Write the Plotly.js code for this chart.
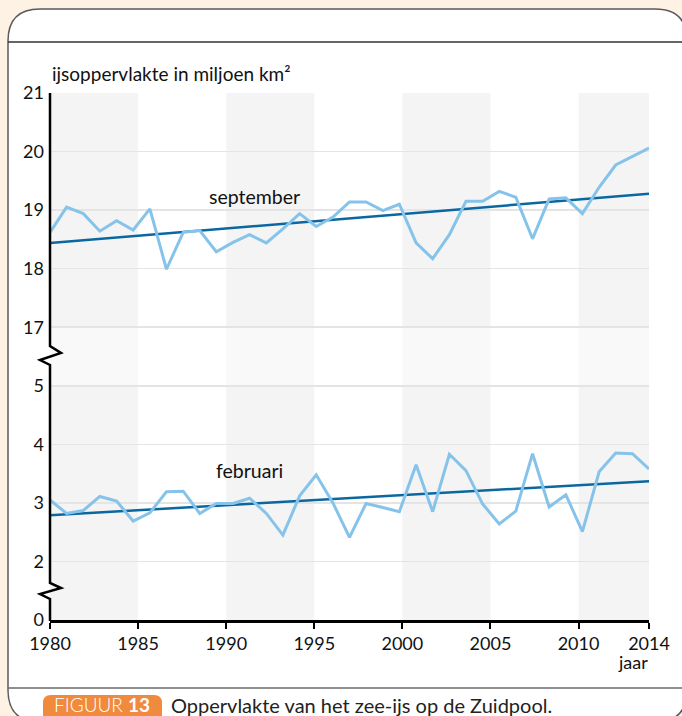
<!DOCTYPE html>
<html><head><meta charset="utf-8">
<script src="https://cdn.plot.ly/plotly-3.0.1.min.js"></script>
<style>html,body{margin:0;padding:0;background:#fdf2e4;}#chart{width:682px;height:716px;}</style>
</head><body><div id="chart"></div>
<script>
// ---- data ----
const years = [1980.00,1980.94,1981.89,1982.83,1983.78,1984.72,1985.67,1986.61,1987.56,1988.50,
               1989.44,1990.39,1991.33,1992.28,1993.22,1994.17,1995.11,1996.06,1997.00,1997.94,
               1998.89,1999.83,2000.78,2001.72,2002.67,2003.61,2004.56,2005.50,2006.44,2007.39,
               2008.33,2009.28,2010.22,2011.17,2012.11,2013.06,2014.00];
const september = [18.62,19.05,18.94,18.64,18.82,18.66,19.02,17.99,18.62,18.65,
                   18.29,18.45,18.58,18.44,18.68,18.94,18.72,18.88,19.14,19.14,
                   18.99,19.10,18.44,18.17,18.58,19.15,19.15,19.32,19.22,18.51,
                   19.19,19.21,18.94,19.39,19.77,19.92,20.06];
const februari = [3.05,2.82,2.87,3.11,3.03,2.69,2.83,3.19,3.20,2.82,
                  2.99,2.99,3.08,2.82,2.45,3.12,3.48,3.00,2.41,2.99,
                  2.92,2.85,3.65,2.85,3.83,3.55,2.98,2.64,2.86,3.84,
                  2.93,3.14,2.51,3.53,3.85,3.84,3.58];
const trendYears = [1980, 2014];
const septemberTrend = [18.44, 19.28];
const februariTrend = [2.79, 3.37];
const yTickValues = [0, 2, 3, 4, 5, 17, 18, 19, 20, 21];
const xTickValues = [1980, 1985, 1990, 1995, 2000, 2005, 2010, 2014];

// broken-axis mapping (0 | 2..5 | 17..21)
function toAxis(v){ if(v>=17) return v-12; if(v>=2) return v-1; return v/2; }

// ---- geometry helpers (pixel -> shape/annotation coordinates) ----
const L=50, R=649, T=93, B=620;
function pt(px,py){ return (px-L)+','+(B-py); }
function pixShape(path, extra){
  return Object.assign({type:'path', xref:'paper', yref:'paper', xsizemode:'pixel', ysizemode:'pixel',
    xanchor:0, yanchor:0, path:path}, extra);
}
function xp(px){ return (px-L)/(R-L); }
function yp(py){ return (B-py)/(B-T); }

const FONT = 'Lato, "Noto Sans", sans-serif';

const traces = [
  {x:trendYears, y:septemberTrend.map(toAxis), mode:'lines', line:{color:'#0b67a0', width:2.5}, hoverinfo:'skip'},
  {x:trendYears, y:februariTrend.map(toAxis), mode:'lines', line:{color:'#0b67a0', width:2.5}, hoverinfo:'skip'},
  {x:years, y:september.map(toAxis), mode:'lines', line:{color:'#86c3ea', width:3}, hoverinfo:'skip'},
  {x:years, y:februari.map(toAxis), mode:'lines', line:{color:'#86c3ea', width:3}, hoverinfo:'skip'}
];

const shapes = [];
// white panel with rounded corners
shapes.push(pixShape('M'+pt(8,690)+' L'+pt(8,41)+' Q'+pt(8,9)+' '+pt(40,9)+' L'+pt(655,9)+
  ' Q'+pt(687,9)+' '+pt(687,41)+' L'+pt(687,690)+' Q'+pt(687,722)+' '+pt(655,722)+
  ' L'+pt(40,722)+' Q'+pt(8,722)+' '+pt(8,690)+' Z',
  {fillcolor:'#ffffff', line:{color:'#5a5a5a', width:1.5}, layer:'below'}));
// header and footer dividers
shapes.push(pixShape('M'+pt(8,42)+' L'+pt(687,42), {line:{color:'#333333', width:1.5}, layer:'below'}));
shapes.push(pixShape('M'+pt(8,688)+' L'+pt(687,688), {line:{color:'#6a6a6a', width:1.5}, layer:'below'}));
// badge
shapes.push(pixShape('M'+pt(51,695)+' L'+pt(154,695)+' Q'+pt(162,695)+' '+pt(162,703)+' L'+pt(162,722)+
  ' L'+pt(43,722)+' L'+pt(43,703)+' Q'+pt(43,695)+' '+pt(51,695)+' Z',
  {fillcolor:'#f08a3c', line:{width:0}, layer:'below'}));
// alternating 5-year bands
const bandFrom = [1980, 1990, 2000, 2010], bandTo = [1985, 1995, 2005, 2014];
for(let i=0;i<bandFrom.length;i++){
  shapes.push({type:'rect', xref:'x', yref:'y', x0:bandFrom[i], x1:bandTo[i], y0:0, y1:4,
    fillcolor:'#f4f4f4', line:{width:0}, layer:'below'});
  shapes.push({type:'rect', xref:'x', yref:'y', x0:bandFrom[i], x1:bandTo[i], y0:5, y1:9,
    fillcolor:'#f4f4f4', line:{width:0}, layer:'below'});
  shapes.push({type:'rect', xref:'x', yref:'y', x0:bandFrom[i], x1:bandTo[i], y0:4, y1:5,
    fillcolor:'#f9f9f9', line:{width:0}, layer:'below'});
}
// y-axis line with break marks
shapes.push(pixShape('M'+pt(50,T)+' L'+pt(50,346)+' L'+pt(61,353)+' L'+pt(40,360)+' L'+pt(50,365)+
  ' L'+pt(50,583)+' L'+pt(61,588)+' L'+pt(40,594)+' L'+pt(50,599)+' L'+pt(50,B+1),
  {line:{color:'#000000', width:2.5}, layer:'above'}));

const annotations = [
  {xref:'paper', yref:'paper', x:0, y:yp(74), xanchor:'left', yanchor:'middle', showarrow:false,
   text:'ijsoppervlakte in miljoen km²', font:{family:FONT, size:19, color:'#111'}},
  {xref:'x', yref:'y', x:1991.6, y:7.24, xanchor:'center', yanchor:'middle', showarrow:false, text:'september',
   font:{family:FONT, size:19.5, color:'#111'}},
  {xref:'x', yref:'y', x:1991.3, y:2.56, xanchor:'center', yanchor:'middle', showarrow:false, text:'februari',
   font:{family:FONT, size:19.5, color:'#111'}},
  {xref:'paper', yref:'paper', x:xp(633), y:yp(662), xanchor:'center', yanchor:'middle', showarrow:false, text:'jaar',
   font:{family:FONT, size:18, color:'#111'}},
  {xref:'paper', yref:'paper', x:xp(102), y:yp(704.5), xanchor:'center', yanchor:'middle', showarrow:false,
   borderpad:0, text:'FIGUUR <b>13</b>', font:{family:FONT, size:19, color:'#ffffff', weight:300}},
  {xref:'paper', yref:'paper', x:xp(170), y:yp(704.5), xanchor:'left', yanchor:'middle', showarrow:false,
   borderpad:0, text:'Oppervlakte van het zee-ijs op de Zuidpool.', font:{family:FONT, size:20, color:'#222'}}
];

const layout = {
  width:682, height:716,
  margin:{l:L, r:682-R, t:T, b:716-B, pad:0},
  paper_bgcolor:'#fdf2e4', plot_bgcolor:'#ffffff',
  showlegend:false,
  font:{family:FONT, size:18, color:'#111'},
  xaxis:{range:[1980,2014], tickvals:xTickValues, ticktext:xTickValues.map(String),
    showgrid:false, zeroline:false, showline:true, linecolor:'#000', linewidth:2.5,
    ticks:'outside', ticklen:6, tickwidth:2, tickcolor:'#000', fixedrange:true,
    tickfont:{family:FONT, size:18, color:'#111'}},
  yaxis:{range:[0,9], tickvals:yTickValues.map(toAxis), ticktext:yTickValues.map(String),
    showgrid:true, gridcolor:'#e4e4e4', gridwidth:1.5, zeroline:false, showline:false,
    ticks:'', ticklabelstandoff:5, fixedrange:true,
    tickfont:{family:FONT, size:18, color:'#111'}},
  shapes:shapes, annotations:annotations
};

Plotly.newPlot('chart', traces, layout, {displayModeBar:false, staticPlot:true});
</script></body></html>
